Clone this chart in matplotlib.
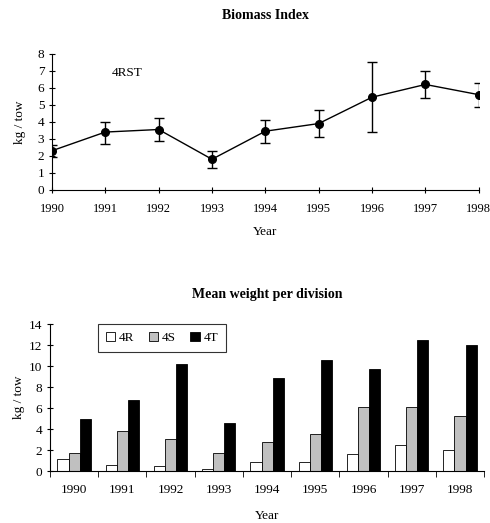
import matplotlib.pyplot as plt
import numpy as np

years = [1990, 1991, 1992, 1993, 1994, 1995, 1996, 1997, 1998]

# biomass index 4RST, with lower / upper error bounds
biomass = [2.3, 3.4, 3.55, 1.8, 3.45, 3.9, 5.45, 6.2, 5.6]
biomass_lo = [1.95, 2.7, 2.9, 1.3, 2.75, 3.1, 3.4, 5.4, 4.9]
biomass_hi = [2.65, 4.0, 4.2, 2.3, 4.1, 4.7, 7.55, 7.0, 6.3]

# mean weight per division
divisions = ['4R', '4S', '4T']
w_4R = [1.2, 0.55, 0.45, 0.25, 0.85, 0.85, 1.6, 2.5, 2.05]
w_4S = [1.75, 3.85, 3.1, 1.7, 2.8, 3.55, 6.1, 6.1, 5.3]
w_4T = [4.95, 6.75, 10.25, 4.6, 8.85, 10.55, 9.75, 12.5, 12.0]

plt.rcParams['font.family'] = ['Liberation Serif', 'DejaVu Serif']
plt.rcParams['font.size'] = 9.5

fig = plt.figure(figsize=(4.9, 5.23), dpi=100)

# --- top panel: biomass index
ax1 = fig.add_axes([0.106, 0.637, 0.871, 0.26])
yerr = [np.array(biomass) - np.array(biomass_lo), np.array(biomass_hi) - np.array(biomass)]
ax1.errorbar(years, biomass, yerr=yerr, color='black', marker='o', markersize=5.5,
             linewidth=1, elinewidth=1, capsize=3.5, capthick=1)
ax1.set_xlim(1990, 1998)
ax1.set_ylim(0, 8)
ax1.set_yticks(range(0, 9))
ax1.set_xticks(years)
ax1.set_ylabel('kg / tow', labelpad=8)
ax1.set_xlabel('Year', labelpad=8)
ax1.text(1991.12, 6.85, '4RST', fontsize=9.5, va='center')
ax1.set_title('Biomass Index', fontweight='bold', fontsize=10, pad=25)
ax1.spines['top'].set_visible(False)
ax1.spines['right'].set_visible(False)
ax1.tick_params(axis='y', direction='inout', length=5, pad=3)
ax1.tick_params(axis='x', direction='inout', length=5, pad=7, labelsize=9)

# --- bottom panel: mean weight per division
ax2 = fig.add_axes([0.102, 0.099, 0.886, 0.281])
x = np.arange(len(years))
bw = 0.23
ax2.bar(x - bw, w_4R, bw, color='white', edgecolor='black', linewidth=0.6, label=divisions[0])
ax2.bar(x, w_4S, bw, color='#c0c0c0', edgecolor='black', linewidth=0.6, label=divisions[1])
ax2.bar(x + bw, w_4T, bw, color='black', edgecolor='black', linewidth=0.6, label=divisions[2])
ax2.set_xlim(-0.5, len(years) - 0.5)
ax2.set_ylim(0, 14)
ax2.set_yticks(range(0, 15, 2))
ax2.set_xticks(x)
ax2.set_xticklabels(years)
ax2.set_xticks(np.arange(-0.5, len(years)), minor=True)
ax2.tick_params(axis='x', which='major', length=0, pad=9)
ax2.tick_params(axis='x', which='minor', direction='out', length=4)
ax2.tick_params(axis='y', direction='inout', length=5, pad=3)
ax2.set_ylabel('kg / tow', labelpad=3)
ax2.set_xlabel('Year', labelpad=10)
ax2.set_title('Mean weight per division', fontweight='bold', fontsize=10, pad=19)
ax2.spines['top'].set_visible(False)
ax2.spines['right'].set_visible(False)
leg = ax2.legend(ncol=3, loc='upper left', bbox_to_anchor=(0.11, 1.0), borderaxespad=0,
                 frameon=True, fancybox=False, edgecolor='black', handlelength=0.7,
                 handleheight=0.7, handletextpad=0.3, columnspacing=1.1, borderpad=0.6)
leg.get_frame().set_linewidth(0.8)

fig.savefig('out.png', dpi=100)
